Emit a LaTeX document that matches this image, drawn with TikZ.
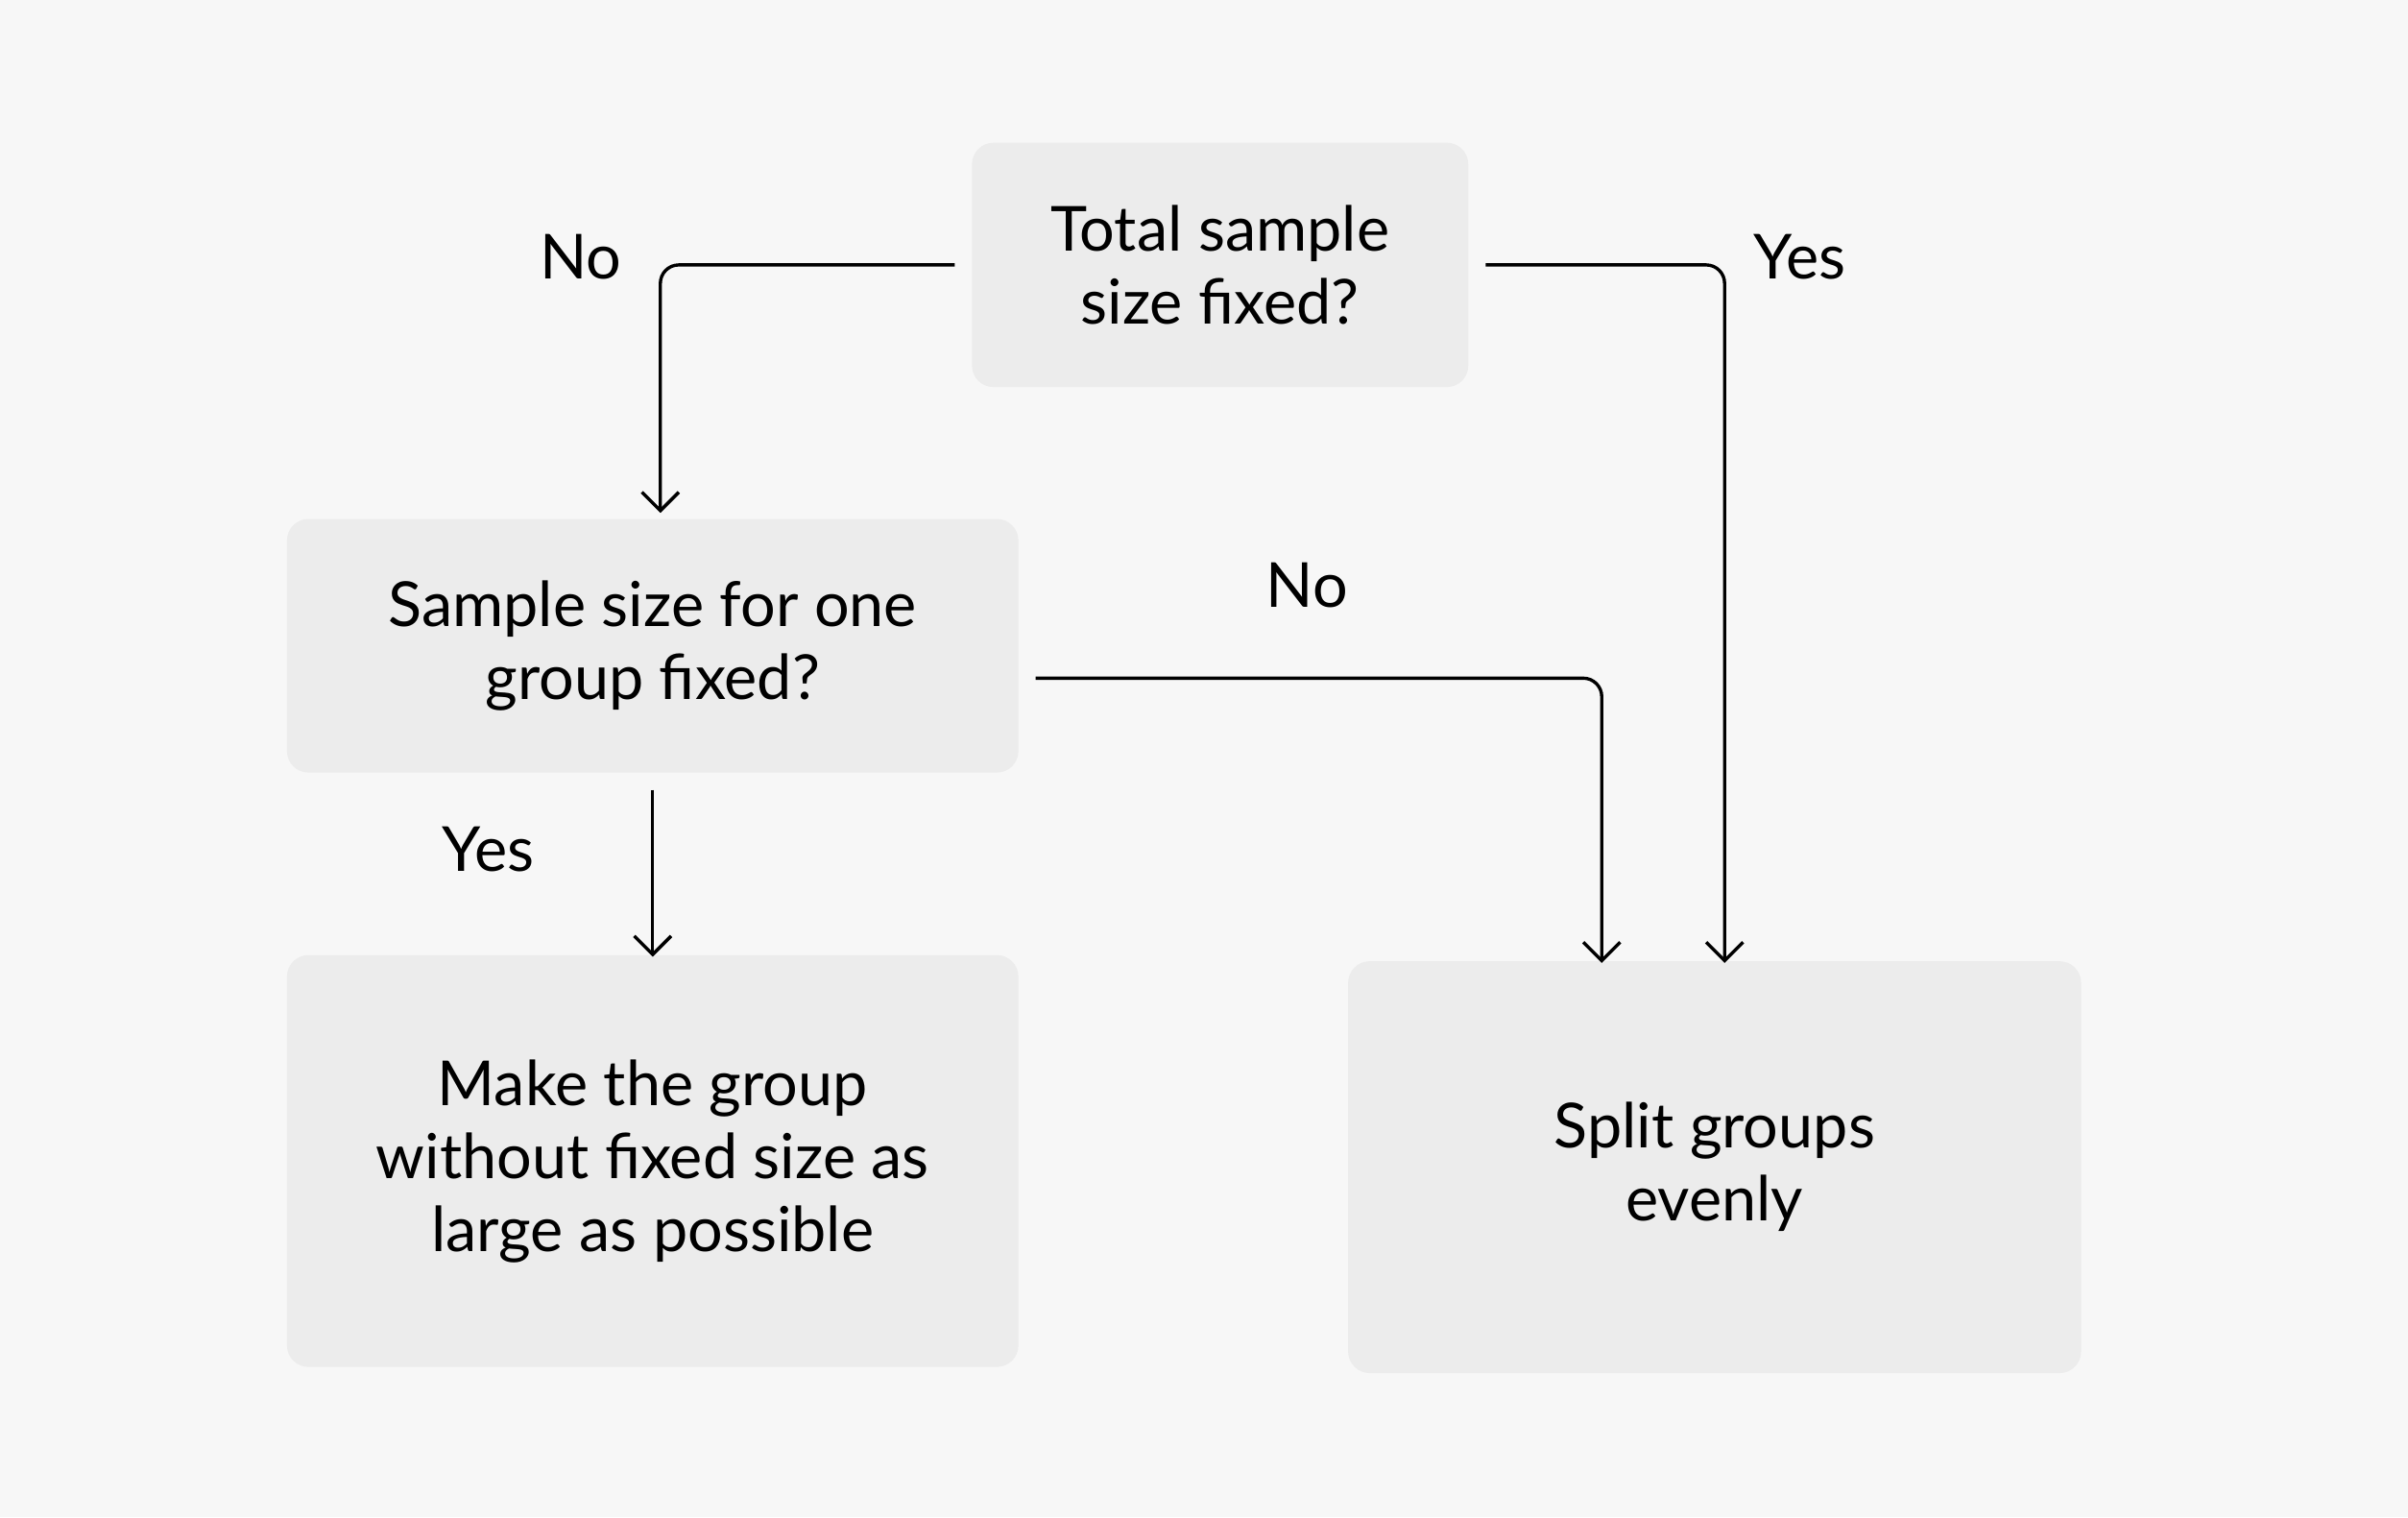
\documentclass[tikz,border=0pt]{standalone}
\usepackage{fontspec}
\setmainfont{Lato}
\usetikzlibrary{arrows.meta}
\definecolor{bg}{HTML}{F7F7F7}
\definecolor{boxc}{HTML}{ECECEC}
\begin{document}
\begin{tikzpicture}[x=0.01cm,y=-0.01cm,
  box/.style={fill=boxc,rounded corners=0.14cm,align=center,inner sep=0pt,font=\fontsize{11.5}{13.5}\selectfont},
  lab/.style={font=\fontsize{11.5}{13.5}\selectfont},
  conn/.style={line width=0.6pt,rounded corners=0.12cm,-{Straight Barb[length=1.2mm,width=2.4mm]}}]
\fill[bg] (0,0) rectangle (1568,988);
\useasboundingbox (0,0) rectangle (1568,988);
\node[box,minimum width=3.23cm,minimum height=1.59cm] (b1) at (794.5,172.5) {Total sample\\size fixed?};
\node[box,minimum width=4.76cm,minimum height=1.65cm] (b2) at (425,420.5) {Sample size for one\\group fixed?};
\node[box,minimum width=4.76cm,minimum height=2.68cm] (b3) at (425,756) {Make the group\\without fixed size as\\large as possible};
\node[box,minimum width=4.77cm,minimum height=2.68cm] (b4) at (1116.5,760) {Split groups\\evenly};
\coordinate (t1) at (430,334);
\coordinate (t2) at (1043,627);
\coordinate (t3) at (1123,627);
\coordinate (t4) at (425,623);
\draw[conn] ([xshift=-3pt]b1.west) -| (t1);
\draw[conn] ([xshift=3pt]b1.east) -| (t3);
\draw[conn] ([xshift=3pt,yshift=-6pt]b2.east) -| (t2);
\draw[conn] ([yshift=-3pt]b2.south) -- (t4);
\node[lab] (n1) at (378,167) {No};
\node[lab] (y1) at (1172,167) {Yes};
\node[lab] (n2) at (851,381) {No};
\node[lab] (y2) at (318,553) {Yes};
\end{tikzpicture}
\end{document}
